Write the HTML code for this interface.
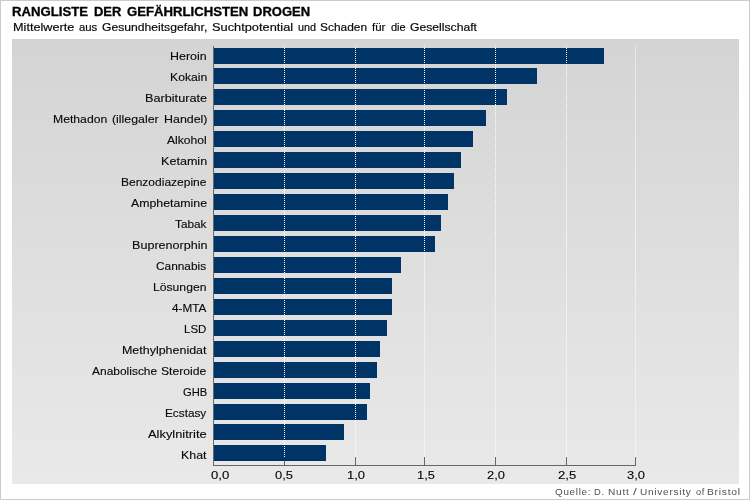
<!DOCTYPE html>
<html lang="de">
<head>
<meta charset="utf-8">
<title>Rangliste der gefährlichsten Drogen</title>
<style>
html,body{margin:0;padding:0;}
body{width:750px;height:500px;overflow:hidden;background:#fff;font-family:"Liberation Sans",sans-serif;}
#frame{position:relative;width:748px;height:498px;border:1px solid #cbcbcb;background:#fff;overflow:hidden;}
.abs{position:absolute;}
.t{position:absolute;white-space:nowrap;transform-origin:0 50%;}
.title{font-size:12px;line-height:14px;font-weight:bold;color:#000;-webkit-text-stroke:0.3px #000;}
.sub{font-size:11px;line-height:14px;color:#080808;-webkit-text-stroke:0.18px #080808;}
#txt{position:absolute;left:0;top:0;width:748px;height:498px;will-change:transform;}
#panel{left:11px;top:38px;width:727px;height:445px;background:linear-gradient(to bottom,#d4d4d4 0%,#e9e9e9 100%);}
.bar{position:absolute;height:16px;background:#003366;}
.lab{font-size:11px;line-height:14px;color:#080808;-webkit-text-stroke:0.12px #080808;}
.grid{position:absolute;width:1px;top:45px;height:411px;background:repeating-linear-gradient(to bottom,#fff 0,#fff 1px,transparent 1px,transparent 2px);}
.tick{position:absolute;width:1px;top:456px;height:9px;background:#666;}
#yaxis{left:212px;top:45px;width:1px;height:420px;background:#666;}
#xaxis{left:212px;top:464px;width:423px;height:1px;background:#666;}
.xl{font-size:11.75px;line-height:14px;color:#000;-webkit-text-stroke:0.1px #000;}
.src{font-size:9.75px;line-height:12px;color:#505050;letter-spacing:0.7px;}

</style>
</head>
<body>
<div id="frame">
<div id="panel" class="abs"></div>

<div class="tick" style="left:283px"></div>
<div class="tick" style="left:354px"></div>
<div class="tick" style="left:423px"></div>
<div class="tick" style="left:494px"></div>
<div class="tick" style="left:565px"></div>
<div class="tick" style="left:634px"></div>
<div id="yaxis" class="abs"></div><div id="xaxis" class="abs"></div>
<div class="bar" style="left:213px;top:47px;width:390px"></div>
<div class="bar" style="left:213px;top:67px;width:323px"></div>
<div class="bar" style="left:213px;top:88px;width:293px"></div>
<div class="bar" style="left:213px;top:109px;width:272px"></div>
<div class="bar" style="left:213px;top:130px;width:259px"></div>
<div class="bar" style="left:213px;top:151px;width:247px"></div>
<div class="bar" style="left:213px;top:172px;width:240px"></div>
<div class="bar" style="left:213px;top:193px;width:234px"></div>
<div class="bar" style="left:213px;top:214px;width:227px"></div>
<div class="bar" style="left:213px;top:235px;width:221px"></div>
<div class="bar" style="left:213px;top:256px;width:187px"></div>
<div class="bar" style="left:213px;top:277px;width:178px"></div>
<div class="bar" style="left:213px;top:298px;width:178px"></div>
<div class="bar" style="left:213px;top:319px;width:173px"></div>
<div class="bar" style="left:213px;top:340px;width:166px"></div>
<div class="bar" style="left:213px;top:361px;width:163px"></div>
<div class="bar" style="left:213px;top:382px;width:156px"></div>
<div class="bar" style="left:213px;top:403px;width:153px"></div>
<div class="bar" style="left:213px;top:423px;width:130px"></div>
<div class="bar" style="left:213px;top:444px;width:112px"></div>
<div class="grid" style="left:283px"></div>
<div class="grid" style="left:354px"></div>
<div class="grid" style="left:423px"></div>
<div class="grid" style="left:494px"></div>
<div class="grid" style="left:565px"></div>
<div class="grid" style="left:634px"></div>
<div id="txt">
<div class="t title" id="title_0" style="left:11.01px;top:3.60px;transform:scaleX(1.0953)">RANGLISTE</div>
<div class="t title" id="title_1" style="left:92.51px;top:3.60px;transform:scaleX(1.0788)">DER</div>
<div class="t title" id="title_2" style="left:125.75px;top:3.60px;transform:scaleX(1.0959)">GEFÄHRLICHSTEN</div>
<div class="t title" id="title_3" style="left:251.91px;top:3.60px;transform:scaleX(1.0829)">DROGEN</div>
<div class="t sub" id="sub_0" style="left:11.85px;top:19.40px;transform:scaleX(1.1539)">Mittelwerte</div>
<div class="t sub" id="sub_1" style="left:77.82px;top:19.40px;transform:scaleX(1.0272)">aus</div>
<div class="t sub" id="sub_2" style="left:101.40px;top:19.40px;transform:scaleX(1.1032)">Gesundheitsgefahr,</div>
<div class="t sub" id="sub_3" style="left:211.33px;top:19.40px;transform:scaleX(1.1642)">Suchtpotential</div>
<div class="t sub" id="sub_4" style="left:296.51px;top:19.40px;transform:scaleX(0.9855)">und</div>
<div class="t sub" id="sub_5" style="left:318.93px;top:19.40px;transform:scaleX(1.0829)">Schaden</div>
<div class="t sub" id="sub_6" style="left:371.37px;top:19.40px;transform:scaleX(1.0357)">für</div>
<div class="t sub" id="sub_7" style="left:389.74px;top:19.40px;transform:scaleX(1.0003)">die</div>
<div class="t sub" id="sub_8" style="left:409.34px;top:19.40px;transform:scaleX(1.1059)">Gesellschaft</div>
<div class="t lab" id="l0" style="left:169.45px;top:48.40px;transform:scaleX(1.1291)">Heroin</div>
<div class="t lab" id="l1" style="left:168.91px;top:69.40px;transform:scaleX(1.1086)">Kokain</div>
<div class="t lab" id="l2" style="left:143.97px;top:90.40px;transform:scaleX(1.1534)">Barbiturate</div>
<div class="t lab" id="l3_0" style="left:51.95px;top:111.40px;transform:scaleX(1.1085)">Methadon</div>
<div class="t lab" id="l3_1" style="left:110.99px;top:111.40px;transform:scaleX(1.1215)">(illegaler</div>
<div class="t lab" id="l3_2" style="left:162.88px;top:111.40px;transform:scaleX(1.1290)">Handel)</div>
<div class="t lab" id="l4" style="left:166.37px;top:132.40px;transform:scaleX(1.1029)">Alkohol</div>
<div class="t lab" id="l5" style="left:159.63px;top:153.40px;transform:scaleX(1.1437)">Ketamin</div>
<div class="t lab" id="l6" style="left:120.30px;top:174.40px;transform:scaleX(1.0916)">Benzodiazepine</div>
<div class="t lab" id="l7" style="left:129.55px;top:195.40px;transform:scaleX(1.1208)">Amphetamine</div>
<div class="t lab" id="l8" style="left:173.68px;top:216.40px;transform:scaleX(1.0708)">Tabak</div>
<div class="t lab" id="l9" style="left:130.52px;top:237.40px;transform:scaleX(1.1437)">Buprenorphin</div>
<div class="t lab" id="l10" style="left:155.49px;top:258.40px;transform:scaleX(1.0787)">Cannabis</div>
<div class="t lab" id="l11" style="left:152.26px;top:279.40px;transform:scaleX(1.1054)">Lösungen</div>
<div class="t lab" id="l12" style="left:171.29px;top:300.40px;transform:scaleX(1.0688)">4-MTA</div>
<div class="t lab" id="l13" style="left:183.34px;top:321.40px;transform:scaleX(1.0448)">LSD</div>
<div class="t lab" id="l14" style="left:120.54px;top:342.40px;transform:scaleX(1.1322)">Methylphenidat</div>
<div class="t lab" id="l15_0" style="left:90.62px;top:363.40px;transform:scaleX(1.0874)">Anabolische</div>
<div class="t lab" id="l15_1" style="left:160.16px;top:363.40px;transform:scaleX(1.1063)">Steroide</div>
<div class="t lab" id="l16" style="left:181.78px;top:384.40px;transform:scaleX(1.0199)">GHB</div>
<div class="t lab" id="l17" style="left:163.92px;top:405.40px;transform:scaleX(1.0704)">Ecstasy</div>
<div class="t lab" id="l18" style="left:147.00px;top:426.40px;transform:scaleX(1.1699)">Alkylnitrite</div>
<div class="t lab" id="l19" style="left:179.57px;top:447.40px;transform:scaleX(1.1264)">Khat</div>
<div class="t xl" id="x0" style="left:210.36px;top:467.00px;transform:scaleX(1.1165)">0,0</div>
<div class="t xl" id="x1" style="left:274.22px;top:467.00px;transform:scaleX(1.1028)">0,5</div>
<div class="t xl" id="x2" style="left:345.98px;top:467.00px;transform:scaleX(1.1011)">1,0</div>
<div class="t xl" id="x3" style="left:416.14px;top:467.00px;transform:scaleX(1.0914)">1,5</div>
<div class="t xl" id="x4" style="left:486.48px;top:467.00px;transform:scaleX(1.0963)">2,0</div>
<div class="t xl" id="x5" style="left:557.02px;top:467.00px;transform:scaleX(1.1129)">2,5</div>
<div class="t xl" id="x6" style="left:626.07px;top:467.00px;transform:scaleX(1.0963)">3,0</div>
<div class="t src" id="src_0" style="left:553.99px;top:485.40px;transform:scaleX(1.0119)">Quelle:</div>
<div class="t src" id="src_1" style="left:592.67px;top:485.40px;transform:scaleX(0.9632)">D.</div>
<div class="t src" id="src_2" style="left:606.97px;top:485.40px;transform:scaleX(1.0390)">Nutt</div>
<div class="t src" id="src_3" style="left:631.88px;top:485.40px;transform:scaleX(1.4119)">/</div>
<div class="t src" id="src_4" style="left:639.47px;top:485.40px;transform:scaleX(1.0362)">University</div>
<div class="t src" id="src_5" style="left:694.86px;top:485.40px;transform:scaleX(0.9489)">of</div>
<div class="t src" id="src_6" style="left:706.45px;top:485.40px;transform:scaleX(1.0551)">Bristol</div>
</div>
</div>
</body>
</html>
